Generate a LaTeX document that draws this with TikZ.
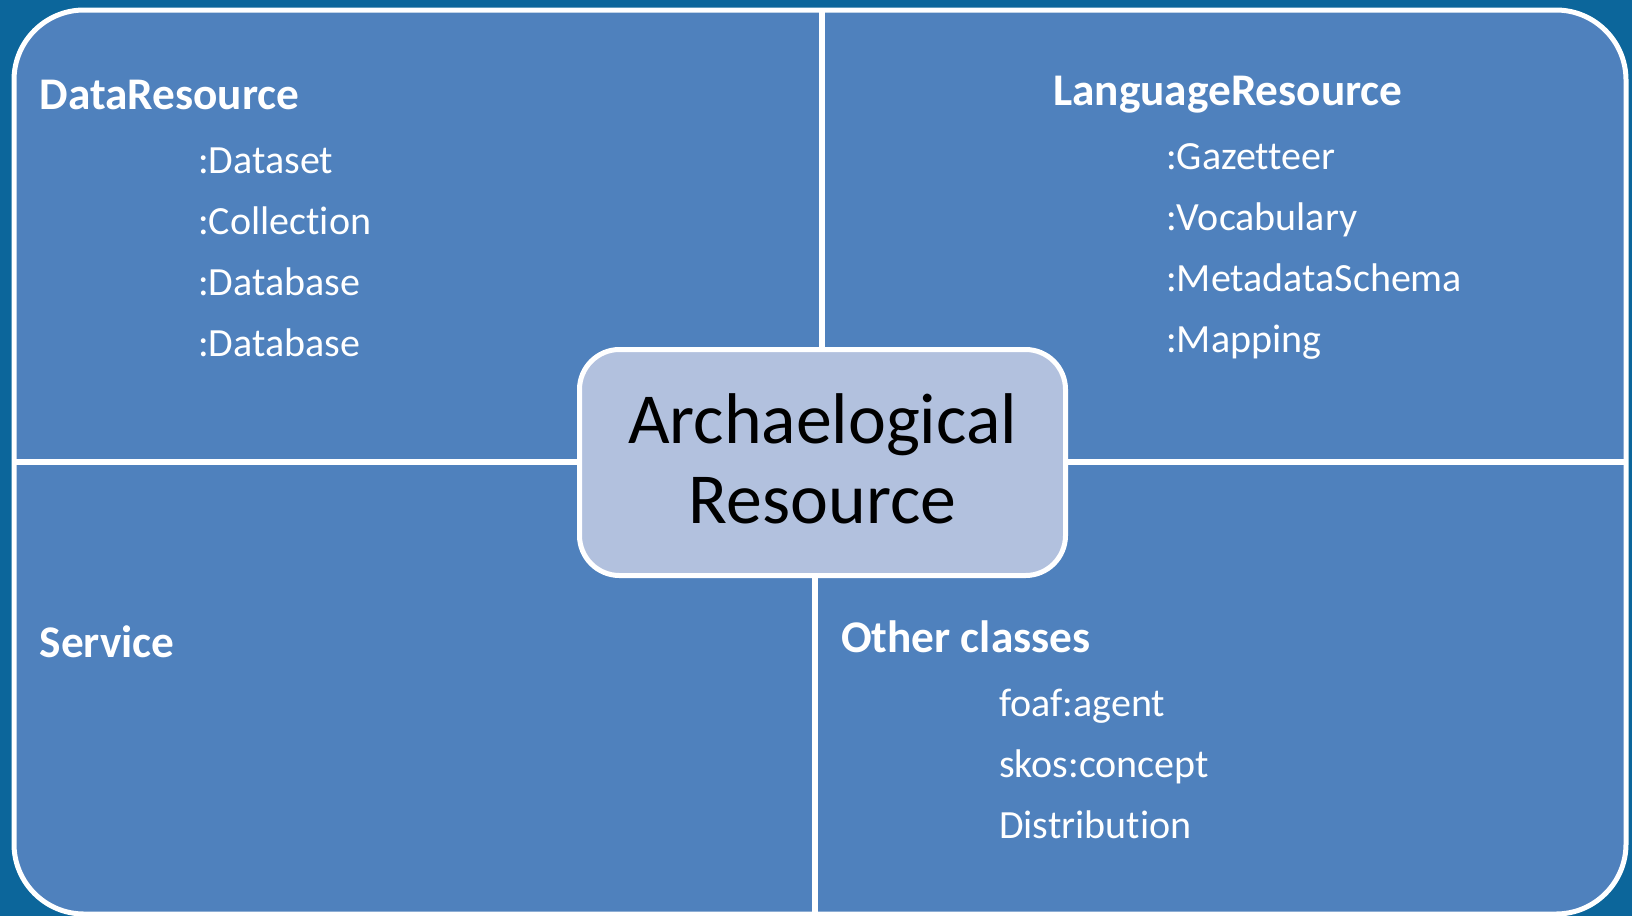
\documentclass[tikz,border=0pt]{standalone}
\usepackage{fontspec}
\setmainfont{Carlito}[Ligatures={NoCommon}]
\definecolor{bgblue}{HTML}{0C669B}
\definecolor{qblue}{HTML}{4F81BD}
\definecolor{cblue}{HTML}{B2C1DE}
\tikzset{
  divider/.style={white, line width=6pt},
  head/.style={anchor=base west, inner sep=0pt, text=white, font=\fontsize{45.3}{55}\selectfont\bfseries},
  item/.style={anchor=base west, inner sep=0pt, text=white, font=\fontsize{40}{48}\selectfont},
  centerbox/.style={draw=white, line width=5pt, fill=cblue, rounded corners=40pt,
    minimum width=486pt, minimum height=226pt, inner sep=0pt},
  centertext/.style={anchor=base, inner sep=0pt, font=\fontsize{71.8}{80}\selectfont}
}
\begin{document}
\begin{tikzpicture}[x=1pt,y=-1pt]
\useasboundingbox (0,0) rectangle (1632,916);
\fill[bgblue] (0,0) rectangle (1632,916);
\draw[white, line width=5pt, fill=qblue, rounded corners=70pt] (14,10) rectangle (1626,914);
\draw[divider] (822,10) -- (822,462);
\draw[divider] (815,462) -- (815,914);
\draw[divider] (14,462) -- (1626,462);
\node[centerbox] (c) at (822.5,462.5) {};
\node[centertext] (c1) at (822.5,443) {Archaelogical};
\node[centertext] (c2) at (822.5,523) {Resource};
% top-left
\node[head] (dr) at (39.5,109) {DataResource};
\node[item] (d1) at (198,173) {:Dataset};
\node[item] (d2) at (198,234) {:Collection};
\node[item] (d3) at (198,295) {:Database};
\node[item] (d4) at (198,356) {:Database};
% top-right
\node[head] (lr) at (1053,105) {LanguageResource};
\node[item] (l1) at (1166,169) {:Gazetteer};
\node[item] (l2) at (1166,230) {:Vocabulary};
\node[item] (l3) at (1166,291) {:MetadataSchema};
\node[item] (l4) at (1166,352) {:Mapping};
% bottom-left
\node[head] (sv) at (39.5,657) {Service};
% bottom-right
\node[head] (oc) at (841,652) {Other classes};
\node[item] (o1) at (999,716) {foaf:agent};
\node[item] (o2) at (999,777) {skos:concept};
\node[item] (o3) at (999,838) {Distribution};
\end{tikzpicture}
\end{document}
